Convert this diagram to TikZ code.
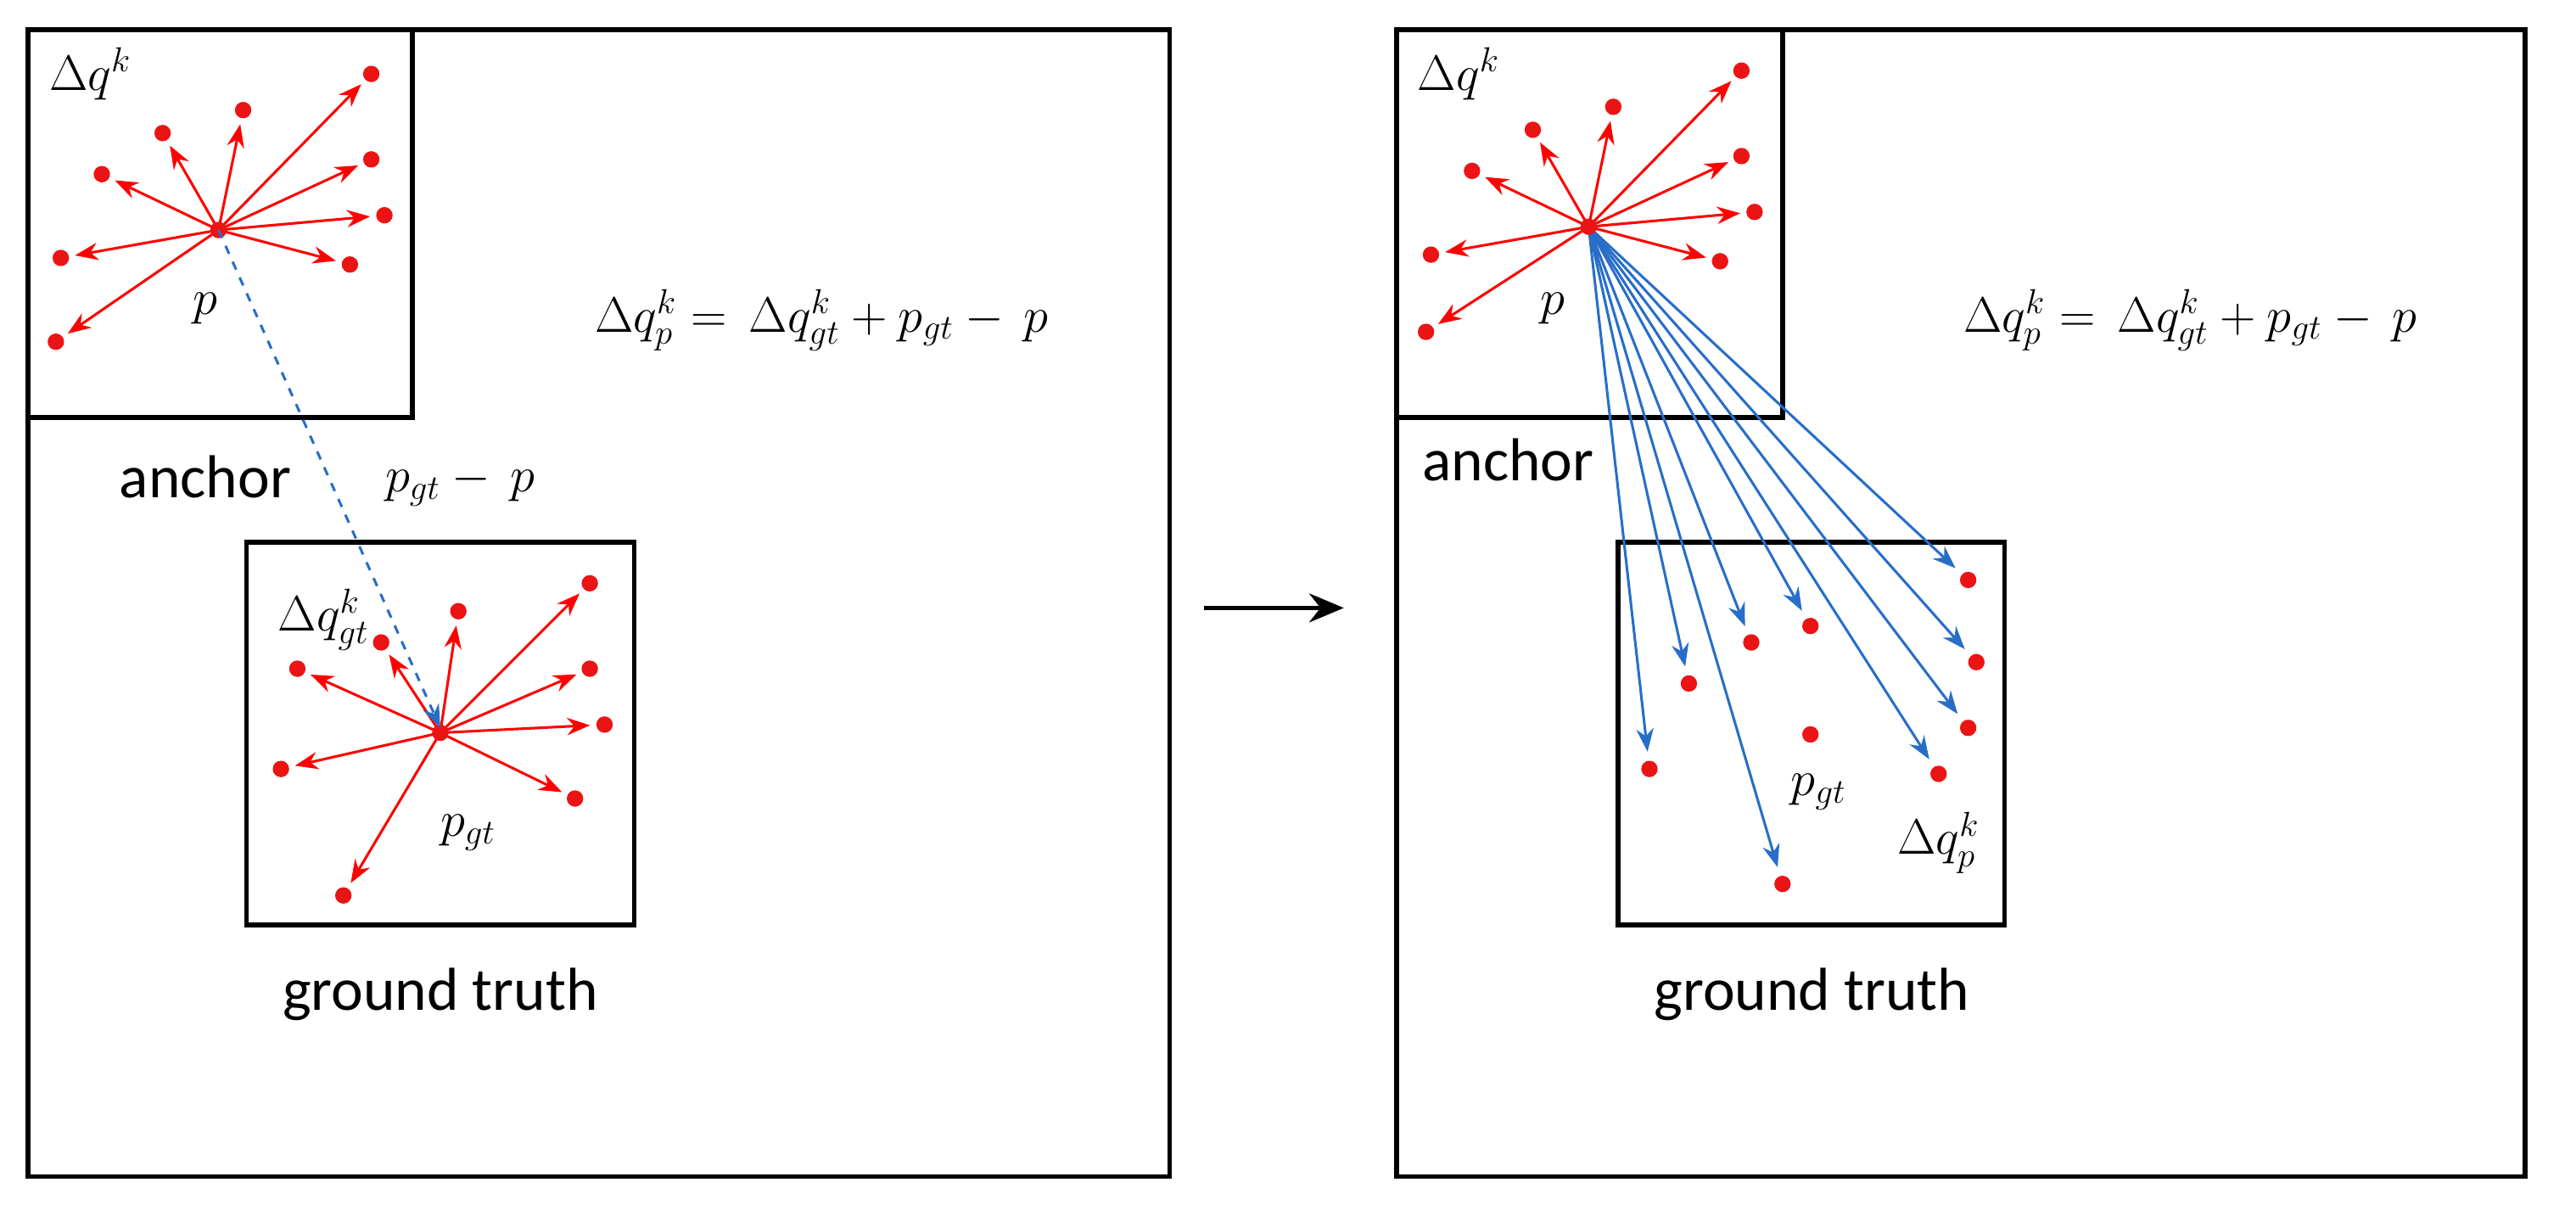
\documentclass[tikz,border=0pt]{standalone}
\usepackage{fontspec}
\setmainfont{Carlito}
\usetikzlibrary{arrows.meta,calc}
\definecolor{dotred}{RGB}{235,20,20}
\definecolor{arrblue}{RGB}{40,110,200}
\tikzset{
  frame/.style = {line width=1.6pt, black},
  spoke/.style = {red, line width=0.9pt, -{Stealth[length=8pt,width=6pt]}, shorten >=5pt},
  reach/.style = {arrblue, line width=0.9pt, -{Stealth[length=8pt,width=6pt]}, shorten >=6pt},
  lbl/.style   = {font=\fontsize{21}{25}\selectfont},
  mth/.style   = {font=\fontsize{18}{21}\selectfont}
}
\newcommand{\redot}[1]{\fill[dotred] #1 circle (5);}
\begin{document}
\begin{tikzpicture}[x=0.02cm, y=-0.02cm]
\useasboundingbox (0,0) rectangle (1568,740);

% left panel
\draw[frame] (17,18) rectangle (712,716);
\draw[frame] (17,18) rectangle (251,254);
\draw[frame] (150,330) rectangle (386,563);
\coordinate (p) at (133,140);
\coordinate (pgt) at (268,446);
\foreach \dx/\dy in {93/-95, 15/-73, -34/-59, -71/-34, 93/-43, 101/-9, 80/21, -96/17, -99/68}{
  \redot{($(p)+(\dx,\dy)$)}
  \draw[spoke] (p) -- ++(\dx,\dy);
}
\foreach \dx/\dy in {91/-91, 11/-74, -36/-55, -87/-39, 91/-39, 100/-5, 82/40, -97/22, -59/99}{
  \redot{($(pgt)+(\dx,\dy)$)}
  \draw[spoke] (pgt) -- ++(\dx,\dy);
}
\redot{(p)} \redot{(pgt)}
\draw[arrblue, line width=0.9pt, dashed, -{Stealth[length=8pt,width=6pt]}] (p) -- ($(pgt)+(0,-3)$);
\node[mth] at (55,45) {$\Delta q^k$};
\node[mth] at (125,188) {$p$};
\node[mth] at (500,195) {$\Delta q_p^k = \,\Delta q_{gt}^k + p_{gt} -\, p$};
\node[lbl] at (125,290) {anchor};
\node[mth] at (280,295) {$p_{gt} -\, p$};
\node[mth] at (197,377) {$\Delta q_{gt}^k$};
\node[mth] at (285,507) {$p_{gt}$};
\node[lbl] at (268,605) {ground truth};

% transition
\draw[line width=1.6pt, -{Stealth[length=12pt,width=10pt]}] (733,370) -- (818,370);

% right panel
\draw[frame] (850,18) rectangle (1537,716);
\draw[frame] (850,18) rectangle (1085,254);
\draw[frame] (985,330) rectangle (1220,563);
\coordinate (q) at (967,138);
\foreach \dx/\dy in {93/-95, 15/-73, -34/-59, -71/-34, 93/-43, 101/-9, 80/21, -96/17, -99/64}{
  \redot{($(q)+(\dx,\dy)$)}
  \draw[spoke] (q) -- ++(\dx,\dy);
}
\foreach \tx/\ty in {1198/353, 1028/416, 1066/391, 1102/381, 1203/403, 1198/443, 1180/471, 1004/468, 1085/538}{
  \redot{(\tx,\ty)}
  \draw[reach] (q) -- (\tx,\ty);
}
\redot{(q)} \redot{(1102,447)}
\node[mth] at (888,45) {$\Delta q^k$};
\node[mth] at (945,188) {$p$};
\node[mth] at (1333,195) {$\Delta q_p^k = \,\Delta q_{gt}^k + p_{gt} -\, p$};
\node[lbl] at (918,280) {anchor};
\node[mth] at (1107,482) {$p_{gt}$};
\node[mth] at (1180,513) {$\Delta q_p^k$};
\node[lbl] at (1103,605) {ground truth};
\end{tikzpicture}
\end{document}
